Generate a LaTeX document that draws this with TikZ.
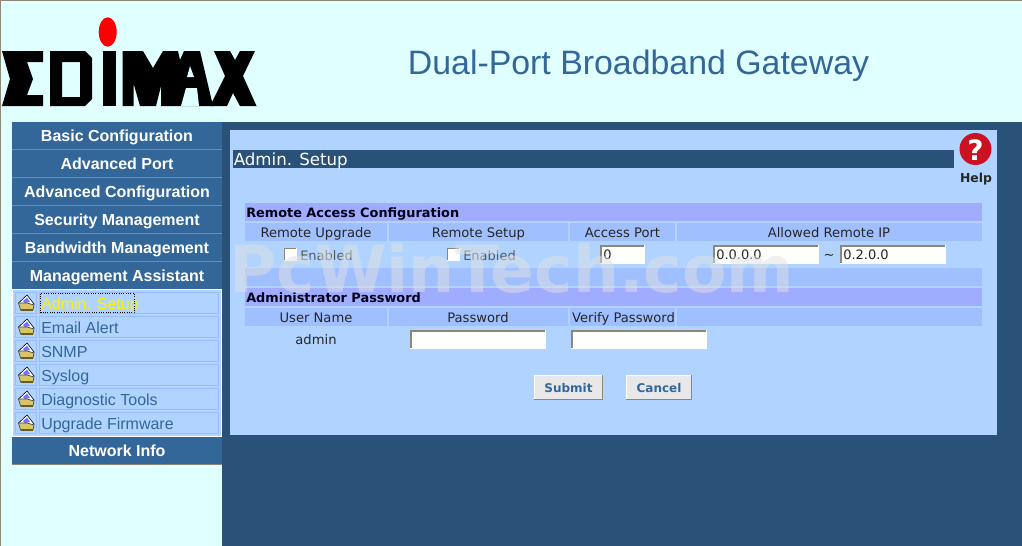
\documentclass[tikz,border=0pt]{standalone}
\usepackage{fontspec}
\setmainfont{Liberation Sans}
\newfontfamily\tablefont{DejaVu Sans}
\definecolor{skybg}{HTML}{E0FFFF}
\definecolor{darkbg}{HTML}{2A5177}
\definecolor{menublue}{HTML}{336699}
\definecolor{panelblue}{HTML}{B0D4FF}
\definecolor{headblue}{HTML}{A0ADFF}
\definecolor{cellblue}{HTML}{A0BFFF}
\definecolor{subline}{HTML}{99BBFF}
\definecolor{edgegray}{HTML}{8C8878}
\definecolor{foldertan}{HTML}{D9C565}
\definecolor{helpred}{HTML}{CC1122}
\tikzset{
  menutext/.style={font=\fontsize{12}{14}\selectfont\bfseries, text=white, anchor=base},
  subtext/.style={font=\fontsize{12}{14}\selectfont, text=menublue, anchor=base west, inner sep=0pt},
  headtext/.style={font=\tablefont\fontsize{9.65}{12}\selectfont\bfseries, text=black!90!blue, anchor=base west, inner sep=0pt},
  celltext/.style={font=\tablefont\fontsize{9.85}{12}\selectfont, text=black!85, anchor=base, inner sep=0pt},
  fieldtext/.style={font=\tablefont\fontsize{9.75}{12}\selectfont, text=black!85, anchor=base west, inner sep=0pt},
  btntext/.style={font=\tablefont\fontsize{9}{12}\selectfont\bfseries, text=menublue, anchor=base, inner sep=0pt},
}
% sunken input box: x1 y1 x2 y2
\newcommand{\inputfield}[4]{
  \fill[white] (#1,#2) rectangle (#3,#4);
  \draw[edgegray, line width=1.2pt] (#1+.7,#4-1) -- (#1+.7,#2+.7) -- (#3-1,#2+.7);
}
% raised button: x1 y1 x2 y2
\newcommand{\pushbutton}[4]{
  \fill[black!9] (#1,#2) rectangle (#3,#4);
  \draw[edgegray, line width=1.2pt] (#1,#4-.7) -- (#3-.7,#4-.7) -- (#3-.7,#2);
  \draw[white, line width=1pt] (#1+.5,#4-1) -- (#1+.5,#2+.5) -- (#3-1,#2+.5);
}
\begin{document}
\begin{tikzpicture}[x=.75pt,y=-.75pt]
\useasboundingbox (0,0) rectangle (1022,546);
% Page
\fill[skybg] (0,0) rectangle (1022,546);
\fill[edgegray] (0,0) rectangle (1022,1.3);
\fill[edgegray] (0,0) rectangle (1.3,546);
\fill[darkbg] (222,122) rectangle (1022,546);

% Logo
\fill[red] (107.7,32) ellipse (9 and 14.7);
\fill[black] (2,51)--(43,51)--(43,62)--(27,62)--(33,79)--(27,95)--(43,95)--(43,106)--(2,106)--(10,79)--cycle;
\fill[black, even odd rule] (50,51)--(85,51)--(92,58)--(92,99)--(85,106)--(50,106)--cycle
  (62,62)--(80,62)--(80,97)--(62,97)--cycle;
\fill[black] (103,51) rectangle (116,106);
\fill[black] (122.7,51)--(143,51)--(153,68)--(163,51)--(178,51)--(180,60)--(184,51)--(200,51)--(213,106)--(181,106)--(161,106)--(161,86)--(156,106)--(140,106)--(133.7,84)--(133.7,106)--(122.7,106)--cycle;
\fill[black] (214,51)--(230,51)--(235,60)--(240,51)--(255,51)--(243,76)--(256.5,106)--(240,106)--(233,93)--(227,106)--(210,106)--(225,76)--cycle;
\fill[skybg] (190,66)--(187,77)--(194,77)--cycle;
\fill[skybg] (186,88)--(197,88)--(199,106)--(181,106)--cycle;

\node[font=\fontsize{25.4}{28}\selectfont, text=menublue, anchor=base] (title) at (638.5,74) {Dual-Port Broadband Gateway};

% Left menu
\fill[menublue] (12,122) rectangle (222,464);
\foreach \Name/\Y/\Label in {basic/141/Basic Configuration, port/169/Advanced Port, advanced/197/Advanced Configuration, security/225/Security Management, bandwidth/253/Bandwidth Management, assistant/281/Management Assistant, info/456/Network Info}{
  \node[menutext] (\Name) at (117,\Y) {\Label};
}
\foreach \Y in {149.5,177.5,205.5,233.5,261.5,464.5}{
  \draw[edgegray, line width=.75pt] (12,\Y)--(222,\Y);
}
\fill[white] (12,289) rectangle (222,437);
\fill[panelblue] (13,290) rectangle (221,436);
\foreach \Y/\Name/\Label/\Tint in {292/admin/Admin. Setup/yellow, 316/email/Email Alert/menublue, 340/snmp/SNMP/menublue, 364/syslog/Syslog/menublue, 388/tools/Diagnostic Tools/menublue, 412/firmware/Upgrade Firmware/menublue}{
  \draw[subline, line width=.75pt] (15.5,\Y+.5) rectangle (36.5,\Y+21.5);
  \draw[subline, line width=.75pt] (39.5,\Y+.5) rectangle (218.5,\Y+21.5);
  % folder icon
  \fill[white, draw=black, line width=.45pt] (18.5,\Y+11)--(27,\Y+3)--(34,\Y+12)--(33,\Y+15)--(22,\Y+15)--cycle;
  \fill[blue!55!white] (23,\Y+9)--(27,\Y+5.5)--(30,\Y+10)--(25,\Y+11)--cycle;
  \fill[foldertan, draw=black!75, line width=.5pt] (18.5,\Y+11)--(27,\Y+11)--(34,\Y+13)--(33,\Y+18)--(20.5,\Y+18)--cycle;
  \draw[olive!60!black, line width=.9pt] (21,\Y+18)--(33,\Y+18);
  \node[subtext, text=\Tint] (\Name) at (41,\Y+17) {\Label};
}
\draw[black, densely dotted, line width=.75pt] (40.5,293.5) rectangle (134.5,312.5);

% Main panel
\fill[panelblue] (230,130) rectangle (997,435);
\fill[darkbg] (233,150) rectangle (954,168);
\node[font=\tablefont\fontsize{12.5}{14}\selectfont, text=white, anchor=base west, inner sep=0pt] (setup) at (233.5,165) {Admin. Setup};

% Help icon
\fill[helpred] (975.5,149) circle (16);
\node[font=\tablefont\fontsize{21}{24}\selectfont\bfseries, text=white, inner sep=0pt, anchor=base] (mark) at (975.5,160) {?};
\node[font=\tablefont\fontsize{9.3}{12}\selectfont\bfseries, text=black!85, inner sep=0pt, anchor=base] (help) at (976,182) {Help};

% Table rows
\fill[headblue] (245,203) rectangle (982,221);
\fill[headblue] (245,288) rectangle (982,306);
\fill[cellblue] (245,268) rectangle (982,286);
\foreach \Y in {223,308}{
  \fill[cellblue] (245,\Y) rectangle (387,\Y+18);
  \fill[cellblue] (389,\Y) rectangle (568,\Y+18);
  \fill[cellblue] (570,\Y) rectangle (675,\Y+18);
  \fill[cellblue] (677,\Y) rectangle (982,\Y+18);
}
\node[headtext] (remote) at (246,217) {Remote Access Configuration};
\node[celltext] (upgrade) at (316,237) {Remote Upgrade};
\node[celltext] (rsetup) at (478.5,237) {Remote Setup};
\node[celltext] (aport) at (622.5,237) {Access Port};
\node[celltext] (allowed) at (829,237) {Allowed Remote IP};

% Row of inputs
\foreach \X in {284,447}{
  \fill[white] (\X,248) rectangle (\X+13,261);
  \draw[edgegray, line width=.9pt] (\X+.5,260)--(\X+.5,248.5)--(\X+12,248.5);
}
\node[fieldtext, text=black!65] (enabled1) at (300,260) {Enabled};
\node[fieldtext, text=black!65] (enabled2) at (463,260) {Enabled};
\inputfield{600}{245}{645}{264}
\inputfield{713}{245}{819}{264}
\inputfield{840}{245}{946}{264}
\node[fieldtext] (portval) at (603,259) {0};
\node[fieldtext] (ipfrom) at (716,259) {0.0.0.0};
\node[fieldtext] (ipto) at (843,259) {0.2.0.0};
\node[celltext] (tilde) at (829,259) {\char`\~};

% Password part
\node[headtext] (adminpw) at (246,302) {Administrator Password};
\node[celltext] (user) at (316,322) {User Name};
\node[celltext] (pass) at (478,322) {Password};
\node[celltext] (verify) at (623.5,322) {Verify Password};
\node[celltext] (adminname) at (316,344) {admin};
\inputfield{410}{330}{546}{349}
\inputfield{571}{330}{707}{349}
\pushbutton{534}{375}{603}{400}
\pushbutton{626}{375}{692}{400}
\node[btntext] (submit) at (568.5,392) {Submit};
\node[btntext] (cancel) at (659,392) {Cancel};

% Watermark
\node[font=\tablefont\fontsize{48.6}{52}\selectfont\bfseries, text=black!12, text opacity=.5, inner sep=0pt, anchor=base west] (stamp) at (229,292) {PcWinTech.com};
\end{tikzpicture}
\end{document}
